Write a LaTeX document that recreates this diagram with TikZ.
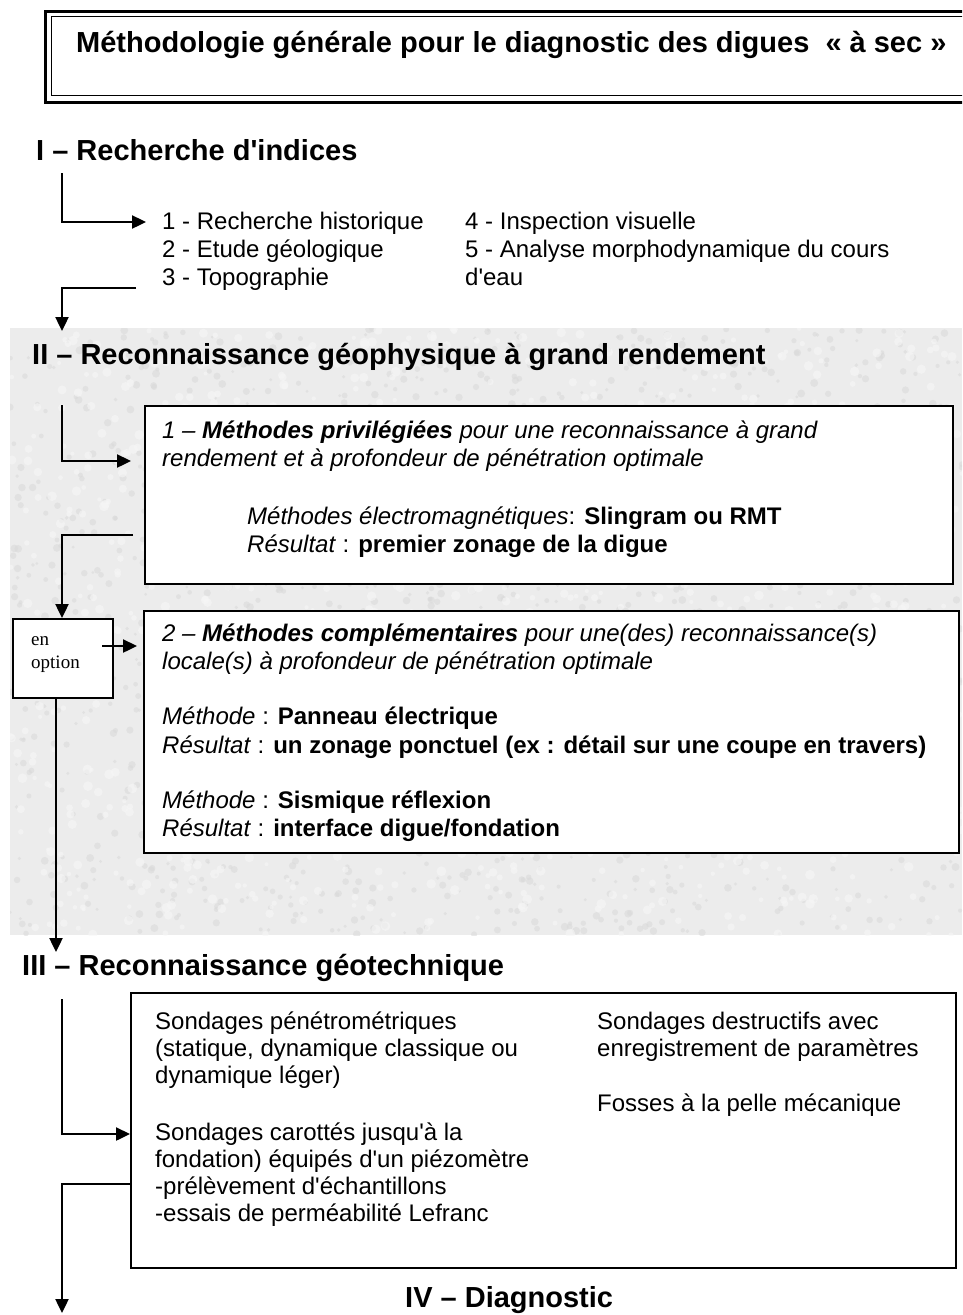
\documentclass[tikz,border=0pt]{standalone}
\usepackage{fontspec}
\newfontfamily\arial{Liberation Sans}
\newfontfamily\tms{Liberation Serif}
\usetikzlibrary{arrows.meta}
\definecolor{bgtex}{RGB}{236,236,236}
\definecolor{speck}{RGB}{218,218,218}
\definecolor{speckl}{RGB}{246,246,246}
\begin{document}
\begin{tikzpicture}[x=1pt,y=-1pt,
  txt/.style={anchor=base west,inner sep=0pt,font=\arial\fontsize{24}{27}\selectfont},
  head/.style={anchor=base west,inner sep=0pt,font=\arial\bfseries\fontsize{29}{33}\selectfont},
  conn/.style={line width=2.4pt,-{Triangle[length=14pt,width=13pt]}},
  box/.style={draw,line width=1.9pt,fill=white,anchor=north west,inner sep=0pt}]
\useasboundingbox (0,0) rectangle (962,1315);
\clip (0,0) rectangle (962,1315);
% textured background of part II
\fill[bgtex] (10,328) rectangle (962,935);
\begin{scope}
\clip (10,328) rectangle (962,935);
\pgfmathsetseed{7}
\foreach \k in {1,...,1600}{
  \pgfmathsetmacro\xx{10+952*rnd}
  \pgfmathsetmacro\yy{328+607*rnd}
  \pgfmathsetmacro\rr{1.5+2.5*rnd}
  \fill[speck,opacity=0.6] (\xx,\yy) circle (\rr pt);
}
\foreach \k in {1,...,1200}{
  \pgfmathsetmacro\xx{10+952*rnd}
  \pgfmathsetmacro\yy{328+607*rnd}
  \pgfmathsetmacro\rr{2+3*rnd}
  \fill[speckl,opacity=0.6] (\xx,\yy) circle (\rr pt);
}
\end{scope}
% title
\node[draw,line width=3pt,anchor=north west,minimum width=940pt,minimum height=91pt,inner sep=0pt] (tout) at (44,10) {};
\node[draw,line width=1.3pt,anchor=north west,minimum width=930pt,minimum height=79pt,inner sep=0pt] (tin) at (51,16) {};
\node[anchor=base west,inner sep=0pt,font=\arial\bfseries\fontsize{29}{33}\selectfont] (title) at (76,52) {Méthodologie générale pour le diagnostic des digues\ \ « à sec »};
% I
\node[head] (h1) at (36,160) {I – Recherche d'indices};
\node[txt] (i1) at (162,229) {1 - Recherche historique};
\node[txt] (i2) at (162,257) {2 - Etude géologique};
\node[txt] (i3) at (162,285) {3 - Topographie};
\node[txt] (i4) at (465,229) {4 - Inspection visuelle};
\node[txt] (i5) at (465,257) {5 - Analyse morphodynamique du cours};
\node[txt] (i6) at (465,285) {d'eau};
\coordinate (a1s) at (62,173);
\coordinate (a1e) at (146,222);
\draw[conn] (a1s) |- (a1e);
\coordinate (a2s) at (136,288);
\coordinate (a2e) at (62,331);
\draw[conn] (a2s) -| (a2e);
% II
\node[head] (h2) at (32,364) {II – Reconnaissance géophysique à grand rendement};
\node[box,minimum width=808pt,minimum height=178pt] (b1) at (144,405) {};
\node[txt] (b1l1) at (162,438) {\itshape 1 – \textbf{Méthodes privilégiées} pour une reconnaissance à grand};
\node[txt] (b1l2) at (162,466) {\itshape rendement et à profondeur de pénétration optimale};
\node[txt] (b1l3) at (247,524) {\textit{Méthodes électromagnétiques}: \textbf{Slingram ou RMT}};
\node[txt] (b1l4) at (247,552) {\textit{Résultat} : \textbf{premier zonage de la digue}};
\coordinate (a3s) at (62,405);
\coordinate (a3e) at (131,461);
\draw[conn] (a3s) |- (a3e);
\node[box,minimum width=100pt,minimum height=79pt] (opt) at (12,618) {};
\node[anchor=base west,inner sep=0pt,font=\tms\fontsize{19}{23}\selectfont] (opt1) at (31,645) {en};
\node[anchor=base west,inner sep=0pt,font=\tms\fontsize{19}{23}\selectfont] (opt2) at (31,668) {option};
\coordinate (a4s) at (133,535);
\draw[conn] (a4s) -| (opt.north -| 62,0);
\node[box,minimum width=815pt,minimum height=242pt] (b2) at (143,610) {};
\coordinate (a5s) at (102,646);
\coordinate (a5e) at (137,646);
\draw[conn] (a5s) -- (a5e);
\node[txt] (b2l1) at (162,641) {\itshape 2 – \textbf{Méthodes complémentaires} pour une(des) reconnaissance(s)};
\node[txt] (b2l2) at (162,669) {\itshape locale(s) à profondeur de pénétration optimale};
\node[txt] (b2l3) at (162,724) {\textit{Méthode} : \textbf{Panneau électrique}};
\node[txt] (b2l4) at (162,753) {\textit{Résultat} : \textbf{un zonage ponctuel (ex : détail sur une coupe en travers)}};
\node[txt] (b2l5) at (162,808) {\textit{Méthode} : \textbf{Sismique réflexion}};
\node[txt] (b2l6) at (162,836) {\textit{Résultat} : \textbf{interface digue/fondation}};
\coordinate (a6e) at (56,952);
\draw[conn] (opt.south -| a6e) -- (a6e);
% III
\node[head] (h3) at (22,975) {III – Reconnaissance géotechnique};
\node[box,minimum width=825pt,minimum height=275pt] (b3) at (130,992) {};
\node[txt] (c1) at (155,1029) {Sondages pénétrométriques};
\node[txt] (c2) at (155,1056) {(statique, dynamique classique ou};
\node[txt] (c3) at (155,1083) {dynamique léger)};
\node[txt] (c4) at (155,1140) {Sondages carottés jusqu'à la};
\node[txt] (c5) at (155,1167) {fondation) équipés d'un piézomètre};
\node[txt] (c6) at (155,1194) {-prélèvement d'échantillons};
\node[txt] (c7) at (155,1221) {-essais de perméabilité Lefranc};
\node[txt] (d1) at (597,1029) {Sondages destructifs avec};
\node[txt] (d2) at (597,1056) {enregistrement de paramètres};
\node[txt] (d3) at (597,1111) {Fosses à la pelle mécanique};
\coordinate (a7s) at (62,999);
\coordinate (a7e) at (130,1134);
\draw[conn] (a7s) |- (a7e);
\coordinate (a8s) at (131,1184);
\coordinate (a8e) at (62,1313);
\draw[conn] (a8s) -| (a8e);
% IV
\node[head] (h4) at (405,1307) {IV – Diagnostic};
\end{tikzpicture}
\end{document}
